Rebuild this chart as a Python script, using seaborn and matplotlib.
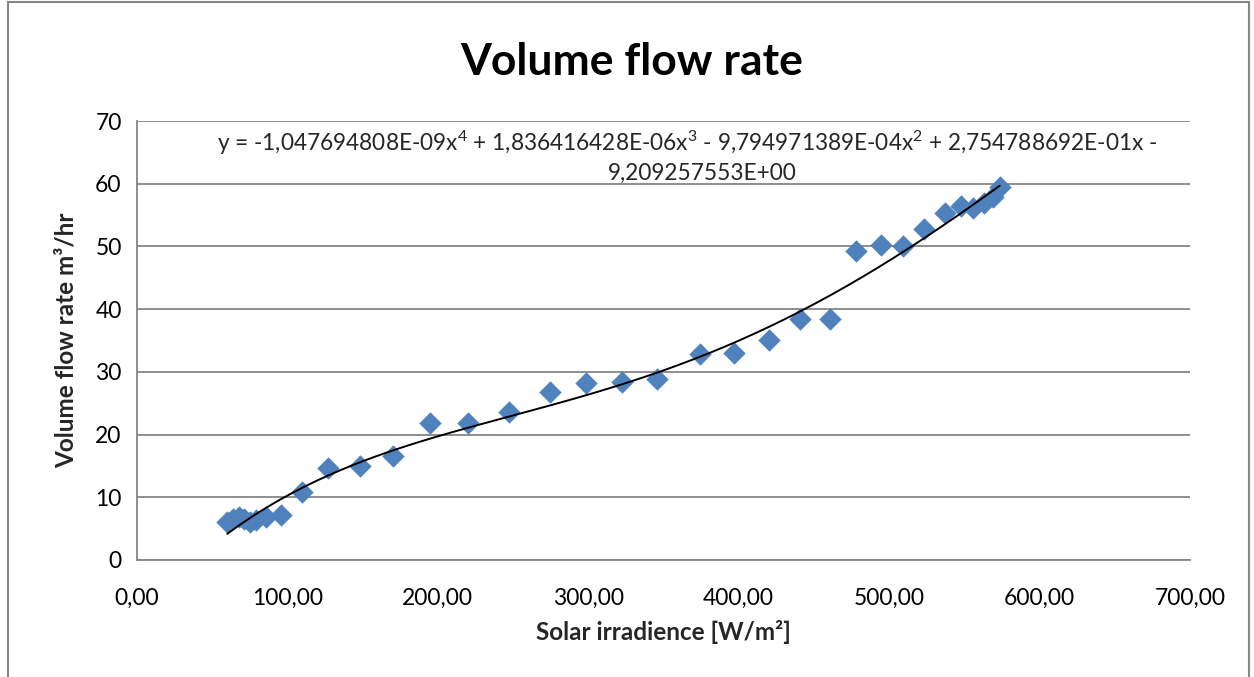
import numpy as np
import pandas as pd
import matplotlib
matplotlib.use("Agg")
import matplotlib.pyplot as plt
import seaborn as sns

# Measured points (solar irradience vs volume flow rate)
irradience = [60, 64, 68, 71, 75, 79, 86, 96, 109.5, 127, 148, 170, 195, 220,
              247, 274.5, 298.5, 322.5, 345.5, 374.5, 397, 420, 441, 461,
              478, 494.5, 509.5, 523, 537, 548, 556, 563, 569, 573.5]
flow_rate = [6.1, 6.5, 6.8, 6.5, 6.1, 6.4, 6.8, 7.2, 10.9, 14.6, 15.0, 16.6, 21.8, 21.8,
             23.6, 26.8, 28.2, 28.4, 28.8, 32.8, 33.0, 35.1, 38.4, 38.4,
             49.3, 50.3, 50.0, 52.7, 55.3, 56.4, 56.2, 56.9, 57.9, 59.5]

# Polynomial trendline coefficients shown on the chart (highest power first)
coeffs = [-1.047694808e-09, 1.836416428e-06, -9.794971389e-04, 2.754788692e-01, -9.209257553]
equation_line1 = ("y = -1,047694808E-09x$^{4}$ + 1,836416428E-06x$^{3}$ - 9,794971389E-04x$^{2}$ "
                  "+ 2,754788692E-01x -")
equation_line2 = "9,209257553E+00"

x_ticks = [0, 100, 200, 300, 400, 500, 600, 700]
y_ticks = [0, 10, 20, 30, 40, 50, 60, 70]

sns.set_style("white")
plt.rcParams['font.family'] = ['Lato', 'DejaVu Sans']
plt.rcParams['mathtext.fontset'] = 'custom'
plt.rcParams['mathtext.rm'] = 'Lato'
plt.rcParams['mathtext.it'] = 'Lato'
plt.rcParams['mathtext.bf'] = 'Lato:bold'
plt.rcParams['mathtext.default'] = 'regular'

df = pd.DataFrame({"x": irradience, "y": flow_rate})
xs = np.linspace(min(irradience), max(irradience), 200)
trend = pd.DataFrame({"x": xs, "y": np.polyval(coeffs, xs)})

fig = plt.figure(figsize=(12.54, 6.77), dpi=100)
ax = fig.add_axes([137 / 1254, 1 - 560 / 677, (1190 - 137) / 1254, (560 - 121) / 677])

grid_col = "#868686"

sns.scatterplot(data=df, x="x", y="y", ax=ax, marker="D", s=130,
                color="#4F81BD", linewidth=0, zorder=3)
sns.lineplot(data=trend, x="x", y="y", ax=ax, color="black", linewidth=1.4, zorder=4)

ax.set_xlim(0, 700)
ax.set_ylim(0, 70)
ax.set_xticks(x_ticks)
ax.set_xticklabels([f"{t:.2f}".replace(".", ",") for t in x_ticks])
ax.set_yticks(y_ticks)
ax.set_yticklabels([str(t) for t in y_ticks])
ax.tick_params(axis="both", labelsize=16.5, colors=grid_col, labelcolor="black",
               direction="out", length=7, width=1.2, pad=4)
ax.tick_params(axis="x", pad=13)

ax.yaxis.grid(True, color=grid_col, linewidth=1.3)
ax.set_axisbelow(True)
for side in ["top", "right"]:
    ax.spines[side].set_visible(False)
for side in ["left", "bottom"]:
    ax.spines[side].set_color(grid_col)
    ax.spines[side].set_linewidth(1.3)

ax.set_xlabel("Solar irradience [W/m\u00b2]", fontsize=17.5, fontweight="bold", labelpad=8)
ax.set_ylabel("Volume flow rate m\u00b3/hr", fontsize=17.5, fontweight="bold", labelpad=13)

fig.text(632 / 1254, 1 - 62 / 677, "Volume flow rate", fontsize=32, fontweight="bold",
         ha="center", va="center", color="black")

# Trendline equation
ax.text(687 / 1254, 1 - 143 / 677, equation_line1, transform=fig.transFigure,
        fontsize=16.3, ha="center", va="center")
ax.text(702 / 1254, 1 - 173 / 677, equation_line2, transform=fig.transFigure,
        fontsize=16.3, ha="center", va="center")

# Chart frame
frame = plt.Rectangle((8 / 1254, -0.05), (1249 - 8) / 1254, 1.05 - 2 / 677,
                      transform=fig.transFigure, fill=False, edgecolor=grid_col, linewidth=1.5)
fig.patches.append(frame)

plt.savefig("out.png", dpi=100)
plt.close()
